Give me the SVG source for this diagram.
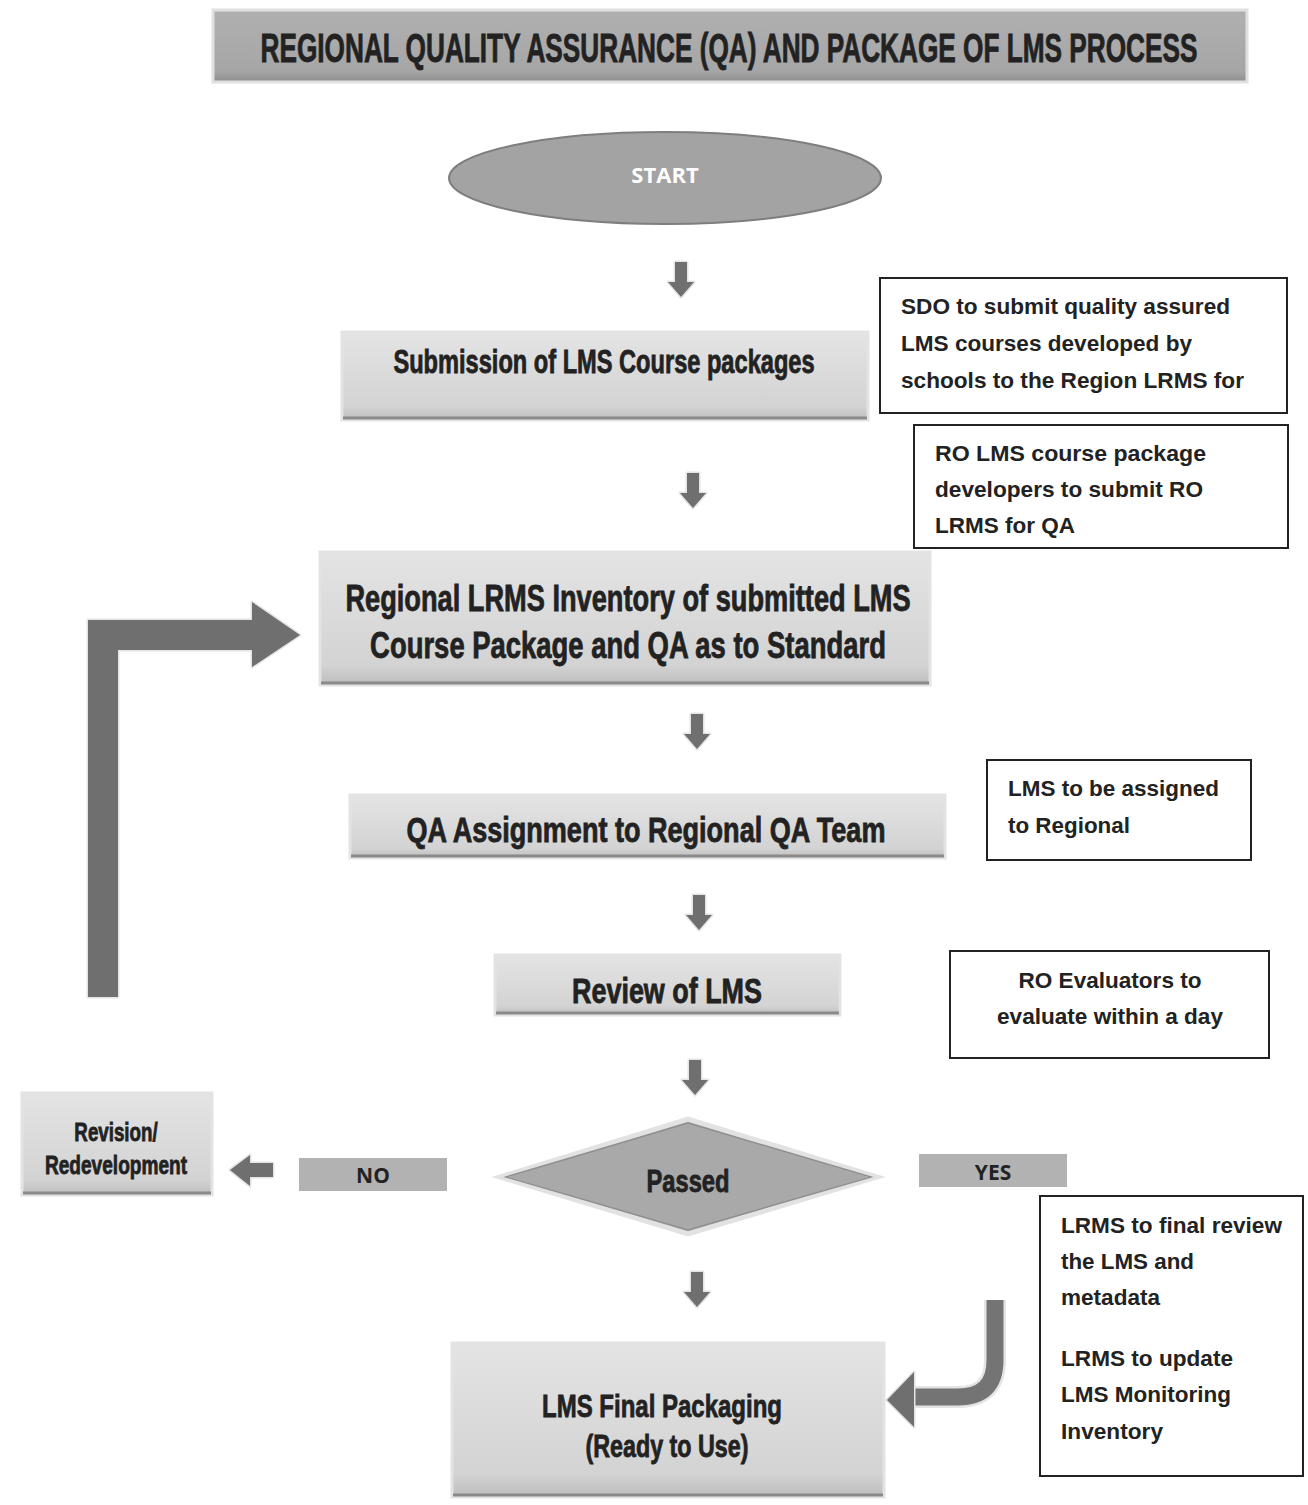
<svg xmlns="http://www.w3.org/2000/svg" width="1308" height="1505" viewBox="0 0 1308 1505">
<style>
.head{font-family:"Liberation Sans",Arial,sans-serif;font-weight:bold;fill:#222;stroke:#222;stroke-width:0.8;text-anchor:middle}
.note{font-family:"Liberation Sans",Arial,sans-serif;font-weight:bold;fill:#222;font-size:21.5px}
.notebox{fill:#fff;stroke:#222;stroke-width:2}
.proc{fill:url(#pg);stroke:#e3e3e3;stroke-width:3}
.edge{stroke:#8a8a8a;stroke-width:3}
.lab{fill:#b2b2b2}
.arr{fill:#6f6f6f;stroke:#e4e4e4;stroke-width:3;stroke-linejoin:round;paint-order:stroke}
</style>
<defs>
<linearGradient id="pg" x1="0" y1="0" x2="0" y2="1">
<stop offset="0" stop-color="#e4e4e4"/><stop offset="0.85" stop-color="#d3d3d3"/><stop offset="1" stop-color="#bdbdbd"/>
</linearGradient>
<linearGradient id="tg" x1="0" y1="0" x2="0" y2="1">
<stop offset="0" stop-color="#b0b0b0"/><stop offset="0.85" stop-color="#a6a6a6"/><stop offset="1" stop-color="#8e8e8e"/>
</linearGradient>
<linearGradient id="lg" x1="0" y1="0" x2="1" y2="0">
<stop offset="0" stop-color="#6a6a6a"/><stop offset="0.5" stop-color="#8a8a8a"/><stop offset="1" stop-color="#6a6a6a"/>
</linearGradient>
<path id="dn" d="M-6 0 H6 V20 H13 L0 35 L-13 20 H-6 Z"/>
</defs>

<g id="title">
<rect x="213" y="10" width="1034" height="72" fill="url(#tg)" stroke="#e0e0e0" stroke-width="3"/>
<text class="head" transform="translate(729 62) scale(0.652 1)" font-size="40" textLength="1437" lengthAdjust="spacingAndGlyphs">REGIONAL QUALITY ASSURANCE (QA) AND PACKAGE OF LMS PROCESS</text>
</g>

<g id="start">
<ellipse cx="665" cy="178" rx="216" ry="46" fill="#a3a3a3" stroke="#7e7e7e" stroke-width="2"/>
<text x="665" y="183" font-family="'Open Sans','Liberation Sans',sans-serif" font-weight="bold" font-size="22" fill="#fff" text-anchor="middle">START</text>
</g>

<g id="submission">
<rect class="proc" x="342" y="332" width="526" height="88"/>
<line class="edge" x1="343" y1="418" x2="867" y2="418"/>
<text class="head" transform="translate(604 373) scale(0.715 1)" font-size="33" textLength="589" lengthAdjust="spacingAndGlyphs">Submission of LMS Course packages</text>
</g>

<g id="note-sdo">
<rect class="notebox" x="880" y="278" width="407" height="135"/>
<text class="note" x="901" y="314" textLength="329" lengthAdjust="spacingAndGlyphs">SDO to submit quality assured</text>
<text class="note" x="901" y="351" textLength="291" lengthAdjust="spacingAndGlyphs">LMS courses developed by</text>
<text class="note" x="901" y="388" textLength="343" lengthAdjust="spacingAndGlyphs">schools to the Region LRMS for</text>
</g>

<g id="note-ro">
<rect class="notebox" x="914" y="425" width="374" height="123"/>
<text class="note" x="935" y="461" textLength="271" lengthAdjust="spacingAndGlyphs">RO LMS  course package</text>
<text class="note" x="935" y="497" textLength="268" lengthAdjust="spacingAndGlyphs">developers to submit RO</text>
<text class="note" x="935" y="533" textLength="140" lengthAdjust="spacingAndGlyphs">LRMS for QA</text>
</g>

<g id="inventory">
<rect class="proc" x="320" y="552" width="610" height="133"/>
<line class="edge" x1="321" y1="683" x2="929" y2="683"/>
<text class="head" transform="translate(628 611) scale(0.735 1)" font-size="37" textLength="769" lengthAdjust="spacingAndGlyphs">Regional LRMS Inventory of submitted LMS</text>
<text class="head" transform="translate(628 658) scale(0.74 1)" font-size="37" textLength="697" lengthAdjust="spacingAndGlyphs">Course Package and QA as to Standard</text>
</g>

<g id="qa-assignment">
<rect class="proc" x="350" y="795" width="595" height="63"/>
<line class="edge" x1="351" y1="856" x2="944" y2="856"/>
<text class="head" transform="translate(646 842) scale(0.765 1)" font-size="35" textLength="626" lengthAdjust="spacingAndGlyphs">QA Assignment to Regional QA Team</text>
</g>

<g id="note-assign">
<rect class="notebox" x="987" y="760" width="264" height="100"/>
<text class="note" x="1008" y="796" textLength="211" lengthAdjust="spacingAndGlyphs">LMS to be assigned</text>
<text class="note" x="1008" y="833" textLength="122" lengthAdjust="spacingAndGlyphs">to Regional</text>
</g>

<g id="review">
<rect class="proc" x="495" y="955" width="345" height="60"/>
<line class="edge" x1="496" y1="1013" x2="839" y2="1013"/>
<text class="head" transform="translate(667 1003) scale(0.769 1)" font-size="35" textLength="247" lengthAdjust="spacingAndGlyphs">Review of LMS</text>
</g>

<g id="note-eval">
<rect class="notebox" x="950" y="951" width="319" height="107"/>
<text class="note" x="1110" y="988" text-anchor="middle" textLength="183" lengthAdjust="spacingAndGlyphs">RO Evaluators to</text>
<text class="note" x="1110" y="1024" text-anchor="middle" textLength="226" lengthAdjust="spacingAndGlyphs">evaluate within a day</text>
</g>

<g id="passed">
<polygon points="500,1177 688,1119 877,1177 688,1234" fill="#a9a9a9" stroke="#e2e2e2" stroke-width="5" stroke-linejoin="miter"/>
<polygon points="506,1177 688,1123 871,1177 688,1230" fill="none" stroke="#909090" stroke-width="1.5"/>
<text class="head" transform="translate(688 1192) scale(0.741 1)" font-size="32" textLength="112" lengthAdjust="spacingAndGlyphs">Passed</text>
</g>

<g id="revision">
<rect class="proc" x="22" y="1093" width="190" height="102"/>
<line class="edge" x1="23" y1="1193" x2="211" y2="1193"/>
<text class="head" transform="translate(116 1141) scale(0.718 1)" font-size="26" textLength="116" lengthAdjust="spacingAndGlyphs">Revision/</text>
<text class="head" transform="translate(116 1174) scale(0.733 1)" font-size="26" textLength="194" lengthAdjust="spacingAndGlyphs">Redevelopment</text>
</g>

<g id="final">
<rect class="proc" x="452" y="1343" width="432" height="154"/>
<line class="edge" x1="453" y1="1495" x2="883" y2="1495"/>
<text class="head" transform="translate(662 1417) scale(0.75 1)" font-size="32" textLength="320" lengthAdjust="spacingAndGlyphs">LMS Final Packaging</text>
<text class="head" transform="translate(667 1457) scale(0.728 1)" font-size="32" textLength="224" lengthAdjust="spacingAndGlyphs">(Ready to Use)</text>
</g>

<g id="note-lrms">
<rect class="notebox" x="1040" y="1196" width="263" height="280"/>
<text class="note" x="1061" y="1233" textLength="221" lengthAdjust="spacingAndGlyphs">LRMS to final review</text>
<text class="note" x="1061" y="1269" textLength="133" lengthAdjust="spacingAndGlyphs">the LMS and</text>
<text class="note" x="1061" y="1305" textLength="99" lengthAdjust="spacingAndGlyphs">metadata</text>
<text class="note" x="1061" y="1366" textLength="172" lengthAdjust="spacingAndGlyphs">LRMS to update</text>
<text class="note" x="1061" y="1402" textLength="170" lengthAdjust="spacingAndGlyphs">LMS Monitoring</text>
<text class="note" x="1061" y="1439" textLength="102" lengthAdjust="spacingAndGlyphs">Inventory</text>
</g>

<g id="connectors">
<use href="#dn" x="681" y="262" class="arr"/>
<use href="#dn" x="693" y="473" class="arr"/>
<use href="#dn" x="697" y="714" class="arr"/>
<use href="#dn" x="699" y="895" class="arr"/>
<use href="#dn" x="695" y="1060" class="arr"/>
<use href="#dn" x="697" y="1272" class="arr"/>
<path class="arr" d="M88 997 V620 H252 V602 L300 635 L252 667 V650 H118 V997 Z" fill="url(#lg)"/>
<path class="arr" d="M273 1163 V1177 H250 V1186 L230 1170 L250 1155 V1163 Z"/>
<path d="M995 1300 V1360 Q995 1397 958 1397 H912" fill="none" stroke="#e4e4e4" stroke-width="22"/>
<path d="M995 1300 V1360 Q995 1397 958 1397 H912" fill="none" stroke="#747474" stroke-width="17"/>
<path class="arr" d="M914 1372 L887 1400 L914 1427 Z"/>
<g id="label-no">
<rect class="lab" x="299" y="1158" width="148" height="33"/>
<text x="373" y="1183" font-family="'Open Sans','Liberation Sans',sans-serif" font-weight="bold" font-size="21" fill="#222" text-anchor="middle">NO</text>
</g>
<g id="label-yes">
<rect class="lab" x="919" y="1154" width="148" height="33"/>
<text x="993" y="1180" font-family="'Open Sans','Liberation Sans',sans-serif" font-weight="bold" font-size="21" fill="#222" text-anchor="middle">YES</text>
</g>
</g>
</svg>
